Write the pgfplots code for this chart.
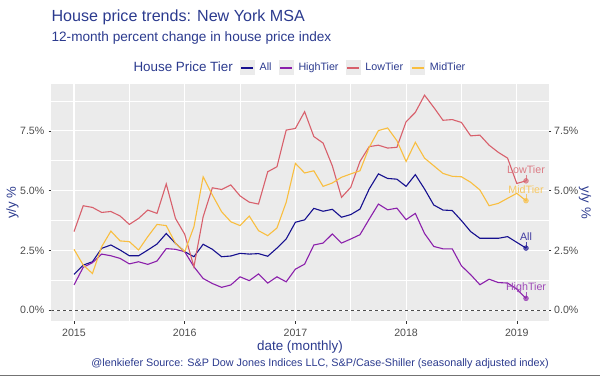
\documentclass[border=0pt]{standalone}
\usepackage{pgfplots}
\pgfplotsset{compat=1.18}
\usepackage{pgfplotstable}
\usepackage{fontspec}
\setmainfont{Liberation Sans}
\definecolor{panelbg}{HTML}{EBEBEB}
\definecolor{titleblue}{HTML}{2B3A8E}
\definecolor{tickgray}{HTML}{4D4D4D}
\definecolor{tickmark}{HTML}{333333}
\definecolor{allc}{HTML}{16108F}
\definecolor{highc}{HTML}{8B20AB}
\definecolor{lowc}{HTML}{D8606C}
\definecolor{midc}{HTML}{F9BE3F}

\pgfplotsset{
  keyimg/.style={legend image code/.code={%
    \fill[panelbg] (0bp,-7bp) rectangle (14bp,7bp);
    \fill[#1] (1.5bp,-0.55bp) rectangle (12.5bp,0.55bp);}},
}

\pgfplotstableread{
i all high low mid
0 1.50 1.06 3.29 2.55
1 1.89 1.80 4.37 1.89
2 2.03 1.99 4.30 1.54
3 2.59 2.35 4.09 2.66
4 2.73 2.28 4.13 3.31
5 2.52 2.17 3.94 2.90
6 2.28 1.94 3.59 2.87
7 2.28 2.03 3.84 2.52
8 2.52 1.92 4.19 3.08
9 2.77 2.06 4.05 3.59
10 3.21 2.58 5.28 3.54
11 2.80 2.55 3.84 2.80
12 2.45 2.45 3.18 2.45
13 2.24 1.82 1.82 3.49
14 2.76 1.33 3.91 5.58
15 2.55 1.12 5.12 4.82
16 2.24 0.96 5.05 4.12
17 2.27 1.06 5.24 3.70
18 2.38 1.40 4.78 3.54
19 2.35 1.24 4.52 3.94
20 2.37 1.52 4.44 3.33
21 2.26 1.14 5.79 3.12
22 2.60 1.40 6.00 3.44
23 2.98 1.19 7.53 4.51
24 3.68 1.72 7.60 6.14
25 3.78 1.93 8.30 5.74
26 4.26 2.73 7.26 5.83
27 4.14 2.81 6.99 5.18
28 4.22 3.19 6.04 5.32
29 3.89 2.81 4.72 5.56
30 4.00 2.98 5.14 5.70
31 4.23 3.16 6.22 5.83
32 5.07 3.81 6.84 6.81
33 5.70 4.44 6.90 7.51
34 5.51 4.20 6.78 7.62
35 5.48 4.27 6.81 7.09
36 5.18 3.79 7.88 6.22
37 5.67 4.05 8.27 7.02
38 5.07 3.21 8.99 6.36
39 4.40 2.67 8.48 6.04
40 4.19 2.57 7.94 5.72
41 4.17 2.57 7.97 5.60
42 3.75 1.86 7.85 5.58
43 3.29 1.49 7.29 5.35
44 3.01 1.07 7.32 5.03
45 3.01 1.30 6.90 4.37
46 3.01 1.16 6.60 4.47
47 3.08 1.14 6.36 4.68
48 2.84 0.89 5.30 4.89
49 2.60 0.50 5.41 4.58
}\hpidata

\begin{document}
\begin{tikzpicture}[x=1bp,y=1bp]
\path[use as bounding box] (0,0) rectangle (600,376);
\begin{axis}[
  at={(51.4bp,54.9bp)}, anchor=south west,
  scale only axis, width=497.2bp, height=236.7bp,
  xmin=-2.45, xmax=51.45, ymin=-0.45, ymax=9.44,
  axis background/.style={fill=panelbg},
  axis line style={draw=none},
  xtick={0,12,24,36,48}, xticklabels={2015,2016,2017,2018,2019},
  minor xtick={6,18,30,42},
  ytick={0,2.5,5,7.5}, yticklabels={0.0\%,2.5\%,5.0\%,7.5\%},
  minor ytick={1.25,3.75,6.25,8.75},
  grid=both,
  major grid style={white, line width=1.07bp},
  minor grid style={white, line width=0.53bp},
  tick pos=left, tick align=outside,
  major tick length=2.7bp, minor tick length=0pt,
  tick style={tickmark, line width=0.5bp},
  tick label style={font=\fontsize{10.6bp}{12bp}\selectfont, text=tickgray},
  xticklabel style={anchor=base, inner sep=0pt, yshift=-12.2bp},
  yticklabel style={anchor=east, inner sep=0pt, xshift=-4.2bp},
  legend columns=5,
  legend style={draw=none, fill=none, at={(0.1541,1.072)}, anchor=west,
    inner sep=0pt, outer sep=0pt,
    font=\fontsize{10.7bp}{12bp}\selectfont,
    /tikz/every odd column/.append style={column sep=5.5bp},
    /tikz/every even column/.append style={column sep=7bp},
    nodes={inner sep=0pt, text=titleblue}},
]
\addlegendimage{empty legend}
\addlegendentry{\fontsize{13.4bp}{15bp}\selectfont House Price Tier\hspace{2.5bp}}
\addlegendimage{keyimg=allc}
\addlegendentry{All}
\addlegendimage{keyimg=highc}
\addlegendentry{HighTier}
\addlegendimage{keyimg=lowc}
\addlegendentry{LowTier}
\addlegendimage{keyimg=midc}
\addlegendentry{MidTier}
\addplot[tickgray, line width=0.5bp, dash pattern=on 3bp off 3bp, forget plot] coordinates {(-2.45,0) (51.45,0)};
\addplot[color=allc, line width=1.1bp, forget plot] table[x=i, y=all]{\hpidata};
\addplot[color=highc, line width=1.1bp, forget plot] table[x=i, y=high]{\hpidata};
\addplot[color=lowc, line width=1.1bp, forget plot] table[x=i, y=low]{\hpidata};
\addplot[color=midc, line width=1.1bp, forget plot] table[x=i, y=mid]{\hpidata};
% end points
\addplot[only marks, mark=*, mark size=2.5bp, allc, opacity=0.65, forget plot] coordinates {(49,2.60)};
\addplot[only marks, mark=*, mark size=2.5bp, highc, opacity=0.65, forget plot] coordinates {(49,0.50)};
\addplot[only marks, mark=*, mark size=2.5bp, lowc, opacity=0.65, forget plot] coordinates {(49,5.41)};
\addplot[only marks, mark=*, mark size=2.5bp, midc, opacity=0.65, forget plot] coordinates {(49,4.58)};
% label segments
\addplot[allc!75!panelbg, line width=0.5bp, forget plot] coordinates {(49,2.60) (49,2.86)};
\addplot[highc!75!panelbg, line width=0.5bp, forget plot] coordinates {(49,0.50) (49,0.76)};
\addplot[lowc!75!panelbg, line width=0.5bp, forget plot] coordinates {(49,5.41) (49,5.67)};
\addplot[midc!75!panelbg, line width=0.5bp, forget plot] coordinates {(49,4.58) (49,4.84)};
\node[text=allc!80!panelbg, font=\fontsize{10.7bp}{12bp}\selectfont, inner sep=0pt, yshift=11bp] at (axis cs:49,2.60) {All};
\node[text=highc!80!panelbg, font=\fontsize{10.7bp}{12bp}\selectfont, inner sep=0pt, yshift=11bp] at (axis cs:49,0.50) {HighTier};
\node[text=lowc!80!panelbg, font=\fontsize{10.7bp}{12bp}\selectfont, inner sep=0pt, yshift=11bp] at (axis cs:49,5.41) {LowTier};
\node[text=midc!80!panelbg, font=\fontsize{10.7bp}{12bp}\selectfont, inner sep=0pt, yshift=11bp] at (axis cs:49,4.58) {MidTier};
\end{axis}
\begin{axis}[
  at={(51.4bp,54.9bp)}, anchor=south west,
  scale only axis, width=497.2bp, height=236.7bp,
  xmin=-2.45, xmax=51.45, ymin=-0.45, ymax=9.44,
  hide x axis, axis line style={draw=none},
  ytick={0,2.5,5,7.5}, yticklabels={0.0\%,2.5\%,5.0\%,7.5\%},
  ytick pos=right, yticklabel pos=right, tick align=outside,
  major tick length=2.7bp,
  tick style={tickmark, line width=0.5bp},
  tick label style={font=\fontsize{10.6bp}{12bp}\selectfont, text=tickgray},
  yticklabel style={anchor=west, inner sep=0pt, xshift=2.7bp},
]
\addplot[draw=none, forget plot] coordinates {(0,0)};
\end{axis}
% titles and labels
\node[anchor=base west, inner sep=0pt, text=titleblue] at (51.4,354.8) {\fontsize{16.1bp}{19bp}\selectfont House price trends: New York MSA};
\node[anchor=base west, inner sep=0pt, text=titleblue] at (51.4,334.5) {\fontsize{13.6bp}{16bp}\selectfont 12-month percent change in house price index};
\node[anchor=base, inner sep=0pt, text=titleblue] at (300,25.7) {\fontsize{13.4bp}{16bp}\selectfont date (monthly)};
\node[anchor=base east, inner sep=0pt, text=titleblue] at (549,9.3) {\fontsize{10.8bp}{13bp}\selectfont @lenkiefer Source: S\&P Dow Jones Indices LLC, S\&P/Case-Shiller (seasonally adjusted index)};
\node[rotate=90, inner sep=0pt, text=titleblue] at (12.5,173.3) {\fontsize{13.2bp}{16bp}\selectfont y/y \%};
\node[rotate=-90, inner sep=0pt, text=titleblue] at (585,173.3) {\fontsize{13.2bp}{16bp}\selectfont y/y \%};
\fill[black!55] (0,0) rectangle (600,1.5);
\end{tikzpicture}
\end{document}
